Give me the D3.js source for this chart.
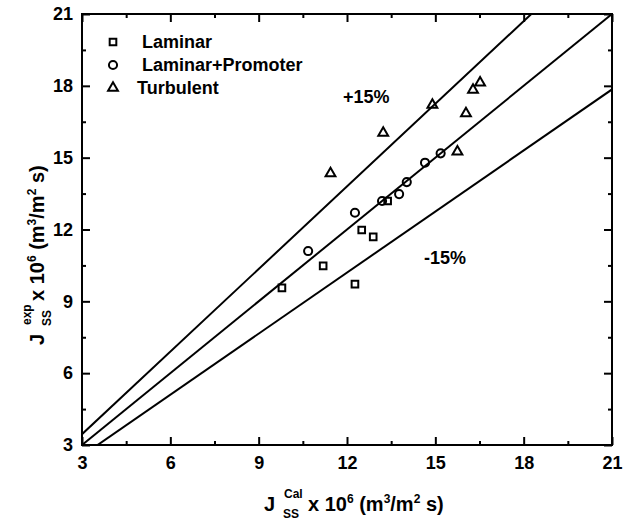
<!DOCTYPE html>
<html><head><meta charset="utf-8">
<script src="https://cdn.jsdelivr.net/npm/d3@7"></script>
<style>body{margin:0;background:#fff}svg{display:block}text{font-family:"Liberation Sans",Arial,sans-serif;font-weight:bold;fill:#000}</style>
</head><body><div id="chart"></div>
<script>
const laminarX = [9.79, 11.19, 12.27, 12.50, 12.89, 13.38];
const laminarY = [9.56, 10.48, 9.72, 11.98, 11.69, 13.19];
const promoterX = [10.68, 12.27, 13.19, 13.77, 14.03, 14.65, 15.18];
const promoterY = [11.10, 12.70, 13.19, 13.48, 13.98, 14.79, 15.18];
const turbulentX = [11.44, 13.23, 14.90, 15.75, 16.04, 16.28, 16.52];
const turbulentY = [14.34, 16.03, 17.20, 15.25, 16.85, 17.83, 18.13];
const majorTicks = [3, 6, 9, 12, 15, 18, 21];
const minorTicks = [4.5, 7.5, 10.5, 13.5, 16.5, 19.5];
const lineFactors = [1.15, 1.0, 0.85];
const seriesNames = ["Laminar", "Laminar+Promoter", "Turbulent"];
const bandLabels = ["+15%", "-15%"];

const W = 624, H = 520;
const svg = d3.select("#chart").append("svg").attr("width", W).attr("height", H);
const x = d3.scaleLinear().domain([3, 21]).range([82, 612]);
const y = d3.scaleLinear().domain([3, 21]).range([445, 14]);

svg.append("defs").append("clipPath").attr("id", "clip")
  .append("rect").attr("x", 82).attr("y", 14).attr("width", 530).attr("height", 431);

const lg = svg.append("g").attr("clip-path", "url(#clip)");
lineFactors.forEach(f => {
  lg.append("line")
    .attr("x1", x(3)).attr("y1", y(3 * f))
    .attr("x2", x(21)).attr("y2", y(21 * f))
    .attr("stroke", "#000").attr("stroke-width", 2);
});

function styleAxis(g, fs) {
  g.select(".domain").remove();
  g.selectAll(".tick line").attr("stroke", "#000").attr("stroke-width", 2);
  g.selectAll(".tick text").style("font-size", fs + "px").style("font-family", '"Liberation Sans",Arial,sans-serif').style("font-weight", "bold");
}
const FS = 18;
const gb = svg.append("g").attr("transform", "translate(0,445)")
  .call(d3.axisBottom(x).tickValues(majorTicks).tickSize(-8).tickPadding(11).tickFormat(d3.format("d")));
styleAxis(gb, FS);
svg.append("g").attr("transform", "translate(0,445)")
  .call(d3.axisBottom(x).tickValues(minorTicks).tickSize(-4).tickFormat("")).call(g => styleAxis(g, FS));
svg.append("g").attr("transform", "translate(0,14)")
  .call(d3.axisTop(x).tickValues(majorTicks).tickSize(-8).tickFormat("")).call(g => styleAxis(g, FS));
svg.append("g").attr("transform", "translate(0,14)")
  .call(d3.axisTop(x).tickValues(minorTicks).tickSize(-4).tickFormat("")).call(g => styleAxis(g, FS));
const gl = svg.append("g").attr("transform", "translate(82,0)")
  .call(d3.axisLeft(y).tickValues(majorTicks).tickSize(-8).tickPadding(9).tickFormat(d3.format("d")));
styleAxis(gl, FS);
svg.append("g").attr("transform", "translate(82,0)")
  .call(d3.axisLeft(y).tickValues(minorTicks).tickSize(-4).tickFormat("")).call(g => styleAxis(g, FS));
svg.append("g").attr("transform", "translate(612,0)")
  .call(d3.axisRight(y).tickValues(majorTicks).tickSize(-8).tickFormat("")).call(g => styleAxis(g, FS));
svg.append("g").attr("transform", "translate(612,0)")
  .call(d3.axisRight(y).tickValues(minorTicks).tickSize(-4).tickFormat("")).call(g => styleAxis(g, FS));

svg.append("rect").attr("x", 82).attr("y", 14).attr("width", 530).attr("height", 431)
  .attr("fill", "none").attr("stroke", "#000").attr("stroke-width", 2);

const syms = [d3.symbolSquare, d3.symbolCircle, d3.symbolTriangle];
const sizes = [44, 52, 42];
const data = [
  laminarX.map((v, i) => [v, laminarY[i]]),
  promoterX.map((v, i) => [v, promoterY[i]]),
  turbulentX.map((v, i) => [v, turbulentY[i]])
];
data.forEach((pts, si) => {
  svg.append("g").selectAll("path").data(pts).enter().append("path")
    .attr("d", d3.symbol().type(syms[si]).size(sizes[si]))
    .attr("transform", d => `translate(${x(d[0])},${y(d[1])})`)
    .attr("fill", "none").attr("stroke", "#000").attr("stroke-width", 2);
});

const legY = [42, 65, 88];
const legTx = [142, 142, 137];
seriesNames.forEach((n, i) => {
  svg.append("path").attr("d", d3.symbol().type(syms[i]).size(sizes[i])())
    .attr("transform", `translate(113,${legY[i]})`)
    .attr("fill", "none").attr("stroke", "#000").attr("stroke-width", 2);
  svg.append("text").attr("x", legTx[i]).attr("y", legY[i] + 6).style("font-size", "18px").text(n);
});

svg.append("text").attr("x", 343).attr("y", 103).style("font-size", "18px").text(bandLabels[0]);
svg.append("text").attr("x", 424).attr("y", 264).style("font-size", "18px").text(bandLabels[1]);

function title(g, sup, sub) {
  g.append("text").attr("x", 0).attr("y", 0).style("font-size", "20px").text("J");
  g.append("text").attr("x", 20).attr("y", -13).style("font-size", "12px").text(sup);
  g.append("text").attr("x", 19).attr("y", 7).style("font-size", "12px").text(sub);
  const t = g.append("text").attr("x", 44).attr("y", 0).style("font-size", "20px");
  t.append("tspan").text("x 10");
  t.append("tspan").attr("dy", -8).style("font-size", "12px").text("6");
  t.append("tspan").attr("dy", 8).text(" (m");
  t.append("tspan").attr("dy", -8).style("font-size", "12px").text("3");
  t.append("tspan").attr("dy", 8).text("/m");
  t.append("tspan").attr("dy", -8).style("font-size", "12px").text("2");
  t.append("tspan").attr("dy", 8).text(" s)");
}
title(svg.append("g").attr("transform", "translate(264,511)"), "Cal", "SS");
title(svg.append("g").attr("transform", "translate(44,345) rotate(-90)"), "exp", "SS");
</script></body></html>
